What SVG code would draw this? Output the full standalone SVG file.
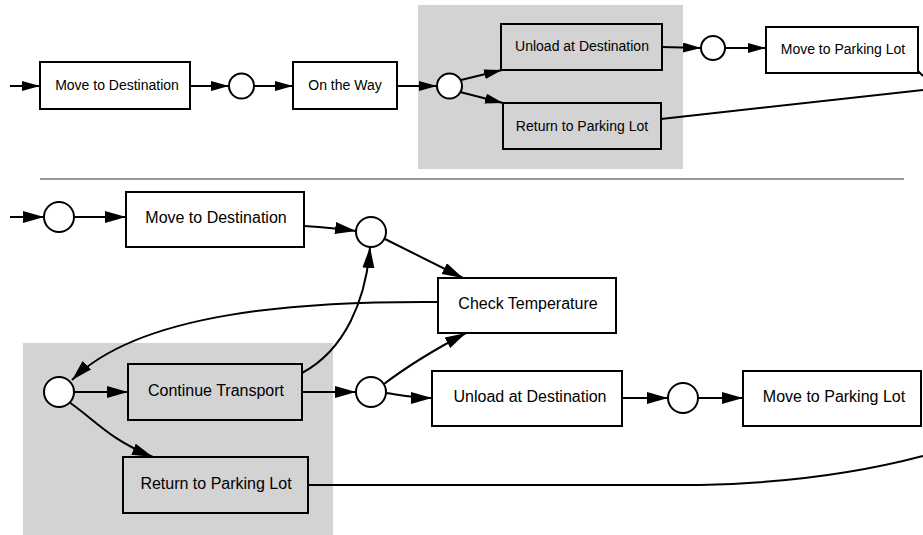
<svg xmlns="http://www.w3.org/2000/svg" width="923" height="535" viewBox="0 0 923 535">
<style>
.bg{fill:#ffffff}
.grp{fill:#d3d3d3;stroke:none}
.box{fill:#ffffff;stroke:#000;stroke-width:2}
.gbox{fill:#d3d3d3;stroke:#000;stroke-width:2}
.st{fill:#ffffff;stroke:#000;stroke-width:2}
.e{fill:none;stroke:#000;stroke-width:2}
.ea{fill:none;stroke:#000;stroke-width:2;marker-end:url(#a1)}
.eb{fill:none;stroke:#000;stroke-width:2;marker-end:url(#a2)}
.t1{font-family:"Liberation Sans",Arial,sans-serif;font-size:14px;fill:#000;text-anchor:middle;dominant-baseline:central}
.t2{font-family:"Liberation Sans",Arial,sans-serif;font-size:16px;fill:#000;text-anchor:middle;dominant-baseline:central}
</style>
<defs>
<marker id="a1" markerUnits="userSpaceOnUse" markerWidth="20" markerHeight="12" refX="18" refY="5" orient="auto" viewBox="0 0 20 12"><path d="M0,0 L18,5 L0,10 Z" fill="#000"/></marker>
<marker id="a2" markerUnits="userSpaceOnUse" markerWidth="24" markerHeight="14" refX="21" refY="6" orient="auto" viewBox="0 0 24 14"><path d="M0,0 L21,6 L0,12 Z" fill="#000"/></marker>
</defs>
<rect class="bg" x="0" y="0" width="923" height="535"/>
<rect class="grp" id="cluster-top" x="418" y="5" width="265" height="164"/>
<rect class="grp" id="cluster-bottom" x="23" y="343" width="310" height="192"/>
<line id="separator" x1="40" y1="179" x2="904" y2="179" stroke="#333" stroke-width="1.2"/>
<g id="connectors">
<path class="ea" d="M10,86 L40,86"/>
<path class="ea" d="M190,86 L229,86"/>
<path class="ea" d="M254,86 L293,86"/>
<path class="ea" d="M397,86 L437,86"/>
<path class="ea" d="M461,80 L502,70"/>
<path class="ea" d="M460,92 L503,103"/>
<path class="ea" d="M662,47 L701,48"/>
<path class="ea" d="M725,48 L766,48"/>
<path class="e" d="M661,119 L923,90"/>
<path class="e" d="M918,71 L923,76"/>
<path class="eb" d="M10,217 L44,217"/>
<path class="eb" d="M74,217 L126,217"/>
<path class="eb" d="M304,226 C320,227 335,228 356,231"/>
<path class="eb" d="M385,239 L463,278"/>
<path class="eb" d="M438,302 C300,301 140,312 72,380"/>
<path class="eb" d="M302,373 C345,350 366,300 370,247"/>
<path class="eb" d="M74,392 L128,392"/>
<path class="eb" d="M69,402 C95,420 110,440 153,457"/>
<path class="eb" d="M302,392 L356,392"/>
<path class="eb" d="M384,384 C405,368 430,352 466,333"/>
<path class="eb" d="M386,393 C400,395 412,398 432,398"/>
<path class="eb" d="M622,398 L668,398"/>
<path class="eb" d="M698,398 L743,398"/>
<path class="e" d="M308,485 L700,485 C800,483 870,470 923,456"/>
</g>
<g id="t-move-dest"><rect class="box" x="40" y="62" width="150" height="47"/><text class="t1" x="117" y="85">Move to Destination</text></g>
<g id="t-c1"><circle class="st" cx="241.5" cy="86" r="12.5"/></g>
<g id="t-on-way"><rect class="box" x="293" y="62" width="104" height="47"/><text class="t1" x="345" y="85">On the Way</text></g>
<g id="t-c2"><circle class="st" cx="449.5" cy="86" r="12.5"/></g>
<g id="t-unload"><rect class="gbox" x="501" y="24" width="161" height="46"/><text class="t1" x="582" y="46">Unload at Destination</text></g>
<g id="t-return"><rect class="gbox" x="503" y="103" width="158" height="46"/><text class="t1" x="582" y="126">Return to Parking Lot</text></g>
<g id="t-c3"><circle class="st" cx="713" cy="48" r="12"/></g>
<g id="t-move-park"><rect class="box" x="766" y="27" width="152" height="46"/><text class="t1" x="843" y="49">Move to Parking Lot</text></g>
<g id="b-c1"><circle class="st" cx="59" cy="217" r="15"/></g>
<g id="b-move-dest"><rect class="box" x="126" y="192" width="178" height="55"/><text class="t2" x="216" y="217">Move to Destination</text></g>
<g id="b-c2"><circle class="st" cx="371" cy="232" r="15"/></g>
<g id="b-check"><rect class="box" x="438" y="278" width="178" height="55"/><text class="t2" x="528" y="303">Check Temperature</text></g>
<g id="b-c3"><circle class="st" cx="59" cy="392" r="15"/></g>
<g id="b-continue"><rect class="gbox" x="128" y="364" width="174" height="56"/><text class="t2" x="216" y="390">Continue Transport</text></g>
<g id="b-return"><rect class="gbox" x="123" y="457" width="185" height="56"/><text class="t2" x="216" y="483">Return to Parking Lot</text></g>
<g id="b-c4"><circle class="st" cx="371" cy="392" r="15"/></g>
<g id="b-unload"><rect class="box" x="432" y="371" width="190" height="55"/><text class="t2" x="530" y="396">Unload at Destination</text></g>
<g id="b-c5"><circle class="st" cx="683" cy="398" r="15"/></g>
<g id="b-move-park"><rect class="box" x="743" y="371" width="178" height="55"/><text class="t2" x="834" y="396">Move to Parking Lot</text></g>
</svg>
